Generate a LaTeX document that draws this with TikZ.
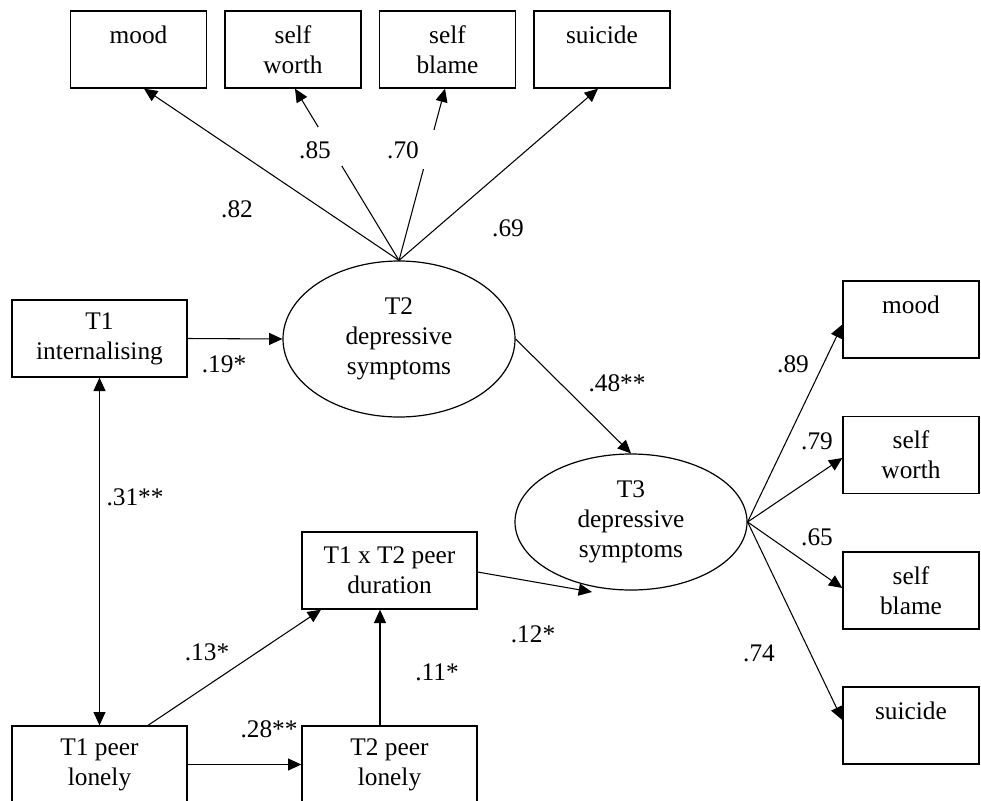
\documentclass[tikz,border=0pt]{standalone}
\usepackage{fontspec}
\setmainfont{Liberation Serif}
\usetikzlibrary{shapes.geometric,arrows.meta,calc}
\begin{document}
\begin{tikzpicture}[x=0.75pt,y=-0.75pt,
  every node/.style={font=\fontsize{19}{22.5}\selectfont},
  boxbase/.style={draw, line width=1pt, rectangle, inner sep=0pt, align=center, minimum height=57.75pt},
  smallbox/.style={boxbase, minimum width=102pt},
  widebox/.style={boxbase, minimum width=131.25pt},
  latent/.style={draw, line width=0.9pt, ellipse, inner sep=0pt, align=center, minimum width=174pt},
  arr/.style={line width=0.8pt, -{Triangle[length=10pt,width=9pt]}},
  darr/.style={line width=0.8pt, {Triangle[length=10pt,width=9pt]}-{Triangle[length=10pt,width=9pt]}},
  gapbox/.style={fill=white, inner sep=0pt, minimum height=29.25pt},
  lbl/.style={inner sep=0pt}
]
\useasboundingbox (0,0) rectangle (981,800);
\clip (0,0) rectangle (981,800);

% top indicators
\node[smallbox] (mood1) at (138.5,49.5) {mood\\\phantom{worth}};
\node[smallbox] (sw1) at (293,49.5) {self\\worth};
\node[smallbox] (sb1) at (447.5,49.5) {self\\blame};
\node[smallbox] (su1) at (602,49.5) {suicide\\\phantom{worth}};

% latent variables
\node[latent, minimum height=117pt] (t2) at (399,339) {T2\\depressive\\symptoms};
\node[latent, minimum height=102pt] (t3) at (631,522) {T3\\depressive\\symptoms};

% observed predictors
\node[widebox] (t1int) at (99.5,338.5) {T1\\internalising};
\node[widebox] (t1xt2) at (389.5,570.5) {T1 x T2 peer\\duration};
\node[widebox] (t1pl) at (99.5,764.5) {T1 peer\\lonely};
\node[widebox] (t2pl) at (389.5,764.5) {T2 peer\\lonely};

% right indicators
\node[smallbox] (mood2) at (911,319.5) {mood\\\phantom{worth}};
\node[smallbox] (sw2) at (911,455) {self\\worth};
\node[smallbox] (sb2) at (911,590.5) {self\\blame};
\node[smallbox] (su2) at (911,725.5) {suicide\\\phantom{worth}};

% T2 loadings
\draw[arr] (t2.north) -- ($(mood1.south)+(5.5,0)$);
\draw[arr] (t2.north) -- node[gapbox, pos=0.662, minimum width=18pt] (g1) {} ($(sw1.south)+(2,0)$);
\draw[arr] (t2.north) -- node[gapbox, pos=0.645, minimum width=9pt] (g2) {} ($(sb1.south)+(-2.5,0)$);
\draw[arr] (t2.north) -- ($(su1.south)+(-4,0)$);

% structural paths
\draw[arr] (t1int.east) -- (t2.west);
\draw[arr] (t2.east) -- (t3.north);
\draw[darr] (t1int.south) -- (t1pl.north);
\draw[arr] ($(t1pl.north)+(48.5,0)$) -- ($(t1xt2.south)+(-68.5,0)$);
\draw[arr] (t1pl.east) -- (t2pl.west);
\draw[arr] ($(t2pl.north)+(-9.5,0)$) -- ($(t1xt2.south)+(-9.5,0)$);
\coordinate (c12) at (592,592);
\draw[arr] ($(t1xt2.east)+(0,1.5)$) -- (c12);

% T3 loadings
\draw[arr] (t3.east) -- ($(mood2.west)+(0,5)$);
\draw[arr] (t3.east) -- ($(sw2.west)+(0,3)$);
\draw[arr] (t3.east) -- ($(sb2.west)+(0,-2.5)$);
\draw[arr] (t3.east) -- ($(su2.west)+(0,-5.5)$);

% coefficients
\node[lbl] (l82) at (237,209) {.82};
\node[lbl] (l85) at (315,150) {.85};
\node[lbl] (l70) at (403,150) {.70};
\node[lbl] (l69) at (508,228) {.69};
\node[lbl] (l19) at (224,364) {.19*};
\node[lbl] (l48) at (617,383) {.48**};
\node[lbl] (l31) at (135,497) {.31**};
\node[lbl] (l13) at (207,652) {.13*};
\node[lbl] (l28) at (269,729) {.28**};
\node[lbl] (l11) at (437,672) {.11*};
\node[lbl] (l12) at (533,634) {.12*};
\node[lbl] (l89) at (793,364) {.89};
\node[lbl] (l79) at (817,441) {.79};
\node[lbl] (l65) at (817,537) {.65};
\node[lbl] (l74) at (759,653) {.74};
\end{tikzpicture}
\end{document}
